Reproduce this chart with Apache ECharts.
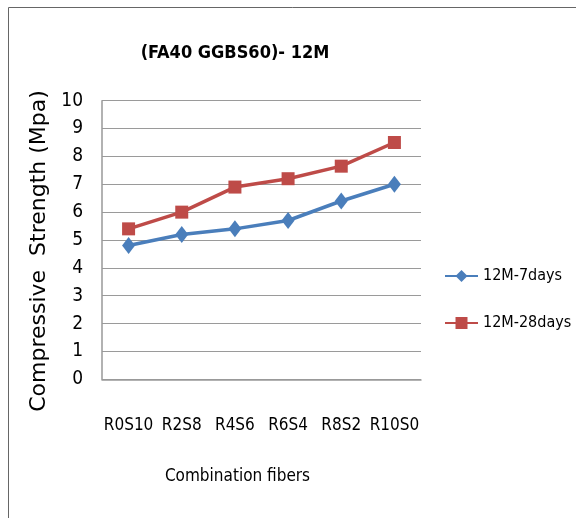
<!DOCTYPE html>
<html><head><meta charset="utf-8">
<script src="https://cdn.jsdelivr.net/npm/echarts@6/dist/echarts.min.js"></script>
<style>html,body{margin:0;padding:0;background:#fff;}#c{width:576px;height:518px;}</style>
</head><body><div id="c"></div>
<script>
const categories = ['R0S10','R2S8','R4S6','R6S4','R8S2','R10S0'];
const days7 = [4.8, 5.2, 5.4, 5.7, 6.4, 7.0];
const days28 = [5.4, 6.0, 6.9, 7.2, 7.65, 8.5];
const seriesNames = ['12M-7days','12M-28days'];
const titleText = '(FA40 GGBS60)- 12M';
const yName = 'Compressive  Strength (Mpa)';
const xName = 'Combination fibers';

const font = '"Liberation Sans Narrow", "DejaVu Sans Condensed", Lato, sans-serif';
const chart = echarts.init(document.getElementById('c'), null, {renderer:'canvas'});
chart.setOption({
  animation:false,
  backgroundColor:'#fff',
  title:{text:titleText,left:235,top:44,textAlign:'center',padding:0,
    textStyle:{fontFamily:font,fontWeight:'bold',fontSize:18,color:'#000'}},
  grid:{left:102,right:155,top:100.7,bottom:138.7},
  legend:{orient:'vertical',left:444,top:268,padding:0,itemGap:31,itemWidth:33,itemHeight:15,itemTextGap:3,
    textStyle:{fontFamily:font,fontSize:16,color:'#000'},
    data:seriesNames},
  xAxis:{type:'category',data:categories,boundaryGap:true,
    name:xName,nameLocation:'middle',nameGap:89,
    nameTextStyle:{fontFamily:font,fontSize:17,color:'#000',padding:[0,48,0,0]},
    axisLine:{lineStyle:{color:'#999',width:1.5}},
    axisTick:{show:false},
    axisLabel:{fontFamily:font,fontSize:17,color:'#000',margin:38,interval:0}},
  yAxis:{type:'value',min:0,max:10,interval:1,
    name:yName,nameLocation:'middle',nameGap:45,
    nameTextStyle:{fontFamily:'"DejaVu Sans", sans-serif',fontSize:22,color:'#000',padding:[0,22,0,0]},
    axisLine:{show:true,lineStyle:{color:'#999',width:1.5}},
    axisTick:{show:false},
    splitLine:{lineStyle:{color:'#9a9a9a',width:1.2}},
    axisLabel:{fontFamily:font,fontSize:19,color:'#000',margin:19}},
  series:[
    {name:seriesNames[0],type:'line',data:days7,symbol:'diamond',symbolSize:[13,17],
      lineStyle:{color:'#4A7EBB',width:3.5},itemStyle:{color:'#4A7EBB'}},
    {name:seriesNames[1],type:'line',data:days28,symbol:'rect',symbolSize:13,
      lineStyle:{color:'#BE4B48',width:3.5},itemStyle:{color:'#BE4B48'}}
  ],
  graphic:[
    {type:'line',shape:{x1:8.5,y1:7.5,x2:8.5,y2:518},style:{stroke:'#666',lineWidth:1}},
    {type:'line',shape:{x1:8.5,y1:7.5,x2:576,y2:7.5},style:{stroke:'#666',lineWidth:1}}
  ]
});
</script></body></html>
